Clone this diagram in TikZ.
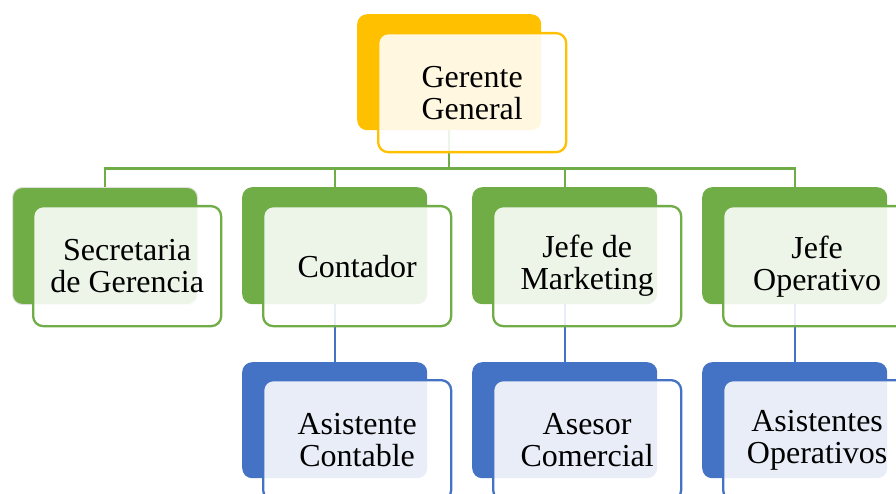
\documentclass[tikz,border=0pt]{standalone}
\usepackage{fontspec}
\setmainfont{Liberation Serif}
\definecolor{cOr}{HTML}{FFC000}
\definecolor{cGr}{HTML}{70AD47}
\definecolor{cBl}{HTML}{4472C4}
\tikzset{
  backbox/.style={rectangle, rounded corners=10pt, fill=#1, draw=none, anchor=north west, inner sep=0pt, minimum width=185pt, minimum height=117pt},
  frontbox/.style={rectangle, rounded corners=10pt, fill=white, fill opacity=0.88, text opacity=1, draw=#1, line width=2.3pt, anchor=north west, inner sep=0pt, minimum width=188pt, minimum height=120pt, align=center, font=\fontsize{32}{32}\selectfont},
  gline/.style={draw=cGr, line width=2.3pt},
  bline/.style={draw=cBl, line width=2.3pt}
}
\begin{document}
\begin{tikzpicture}[x=1pt,y=-1pt]
\useasboundingbox (0,0) rectangle (896,494);
% back boxes
\node[backbox=cOr, minimum width=184pt, minimum height=116pt] (gg) at (357,14) {};
\node[backbox=cGr, draw=black!12, line width=1pt] (sec) at (12,187) {};
\node[backbox=cGr] (cont) at (242,187) {};
\node[backbox=cGr] (mkt) at (472,187) {};
\node[backbox=cGr] (ope) at (702,187) {};
\node[backbox=cBl, minimum height=116pt] (ac) at (242,362) {};
\node[backbox=cBl, minimum height=116pt] (acom) at (472,362) {};
\node[backbox=cBl, minimum height=116pt] (aop) at (702,362) {};
% connectors
\draw[gline] (gg.south) -- ++(0,38) -| (sec.north);
\draw[gline] (gg.south) -- ++(0,38) -| (cont.north);
\draw[gline] (gg.south) -- ++(0,38) -| (mkt.north);
\draw[gline] (gg.south) -- ++(0,38) -| (ope.north);
\draw[bline] (cont.south) -- (ac.north);
\draw[bline] (mkt.south) -- (acom.north);
\draw[bline] (ope.south) -- (aop.north);
% front boxes
\node[frontbox=cOr, minimum height=119pt] (ggf) at (377,32) {Gerente\\General};
\node[frontbox=cGr] (secf) at (32,205) {Secretaria\\de Gerencia};
\node[frontbox=cGr] (contf) at (262,205) {Contador};
\node[frontbox=cGr] (mktf) at (492,205) {Jefe de\\Marketing};
\node[frontbox=cGr] (opef) at (722,205) {Jefe\\Operativo};
\node[frontbox=cBl] (acf) at (262,379) {Asistente\\Contable};
\node[frontbox=cBl] (acomf) at (492,379) {Asesor\\Comercial};
\node[frontbox=cBl] (aopf) at (722,379) {Asistentes\\Operativos};
\end{tikzpicture}
\end{document}
